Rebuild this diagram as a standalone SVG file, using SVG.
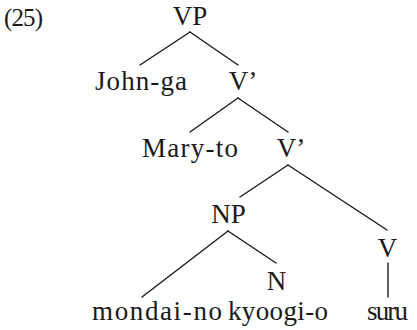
<svg xmlns="http://www.w3.org/2000/svg" width="417" height="330" viewBox="0 0 417 330">
<style>
text{font-family:"Liberation Serif","Times New Roman",serif;font-size:27px;fill:#1a1a1a;text-anchor:middle}
.e{stroke:#1a1a1a;stroke-width:1.4;fill:none;stroke-linecap:round}
</style>
<rect width="417" height="330" fill="#fff"/>
<text x="23.5" y="26" style="font-size:25px" textLength="39" lengthAdjust="spacing">(25)</text>
<g id="connectors">
<line class="e" x1="190" y1="32" x2="140" y2="65"/>
<line class="e" x1="190" y1="32" x2="238" y2="65"/>
<line class="e" x1="238" y1="98" x2="190" y2="132"/>
<line class="e" x1="238" y1="98" x2="288" y2="132"/>
<line class="e" x1="288" y1="165" x2="240" y2="197"/>
<line class="e" x1="288" y1="165" x2="387" y2="230"/>
<line class="e" x1="228" y1="231" x2="142" y2="297"/>
<line class="e" x1="228" y1="231" x2="276" y2="263"/>
<line class="e" x1="388" y1="263" x2="388" y2="297"/>
</g>
<g id="vp"><text x="190" y="25">VP</text></g>
<g id="john-ga"><text x="141" y="90" textLength="92" lengthAdjust="spacing">John-ga</text></g>
<g id="vbar1"><text x="243" y="90">V’</text></g>
<g id="mary-to"><text x="190" y="157" textLength="96" lengthAdjust="spacing">Mary-to</text></g>
<g id="vbar2"><text x="291" y="157">V’</text></g>
<g id="np"><text x="228.5" y="223">NP</text></g>
<g id="v"><text x="387.5" y="257">V</text></g>
<g id="n"><text x="276.5" y="290">N</text></g>
<g id="mondai-no"><text x="157" y="320" textLength="130" lengthAdjust="spacing">mondai-no</text></g>
<g id="kyoogi-o"><text x="278" y="320" textLength="100" lengthAdjust="spacing">kyoogi-o</text></g>
<g id="suru"><text x="387.5" y="320" textLength="41" lengthAdjust="spacing">suru</text></g>
</svg>
